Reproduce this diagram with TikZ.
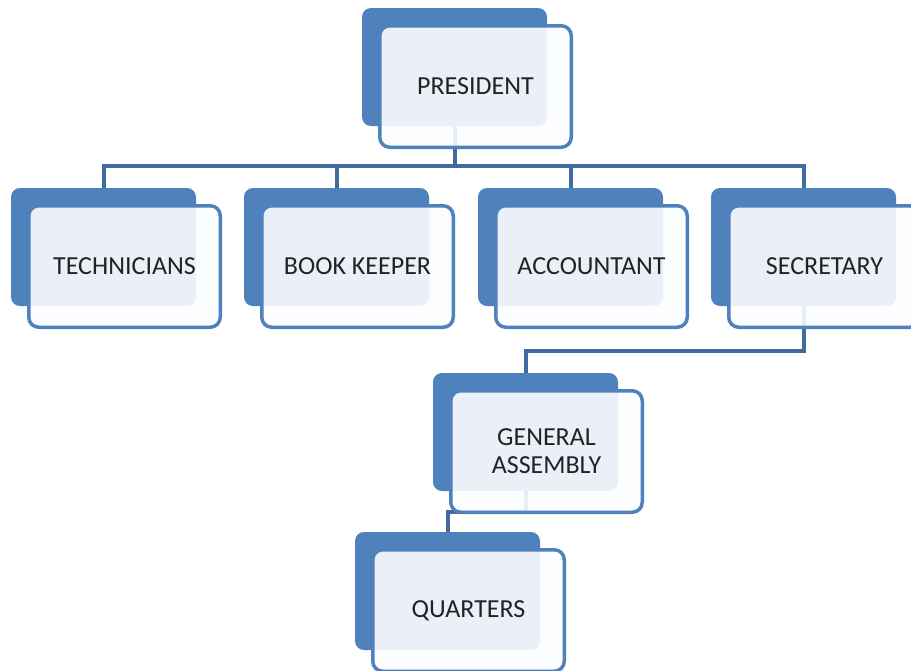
\documentclass[tikz,border=0pt]{standalone}
\usepackage{fontspec}
\setmainfont{Carlito}
\definecolor{bluebk}{RGB}{79,129,189}
\definecolor{connc}{RGB}{65,106,158}
\definecolor{txt}{RGB}{34,34,34}
\definecolor{frontfill}{RGB}{252,253,255}
\tikzset{
 backbox/.style={fill=bluebk, rounded corners=9pt, minimum width=185pt, minimum height=118pt, inner sep=0pt, outer sep=0pt},
 frontbox/.style={draw=bluebk, line width=3.5pt, fill=frontfill, fill opacity=0.9, draw opacity=1, text opacity=1, text=txt, rounded corners=10pt, minimum width=191.5pt, minimum height=121.5pt, inner sep=0pt, align=center, font=\fontsize{26}{28}\selectfont},
 conn/.style={draw=connc, line width=4pt}
}
\begin{document}
\begin{tikzpicture}[x=1pt,y=-1pt]
\useasboundingbox (0,0) rectangle (911,670);
\clip (0,0) rectangle (911,670);
% back boxes
\node[backbox] (pb) at (454.5,67) {};
\node[backbox] (tb) at (103.5,247) {};
\node[backbox] (bb) at (336.5,247) {};
\node[backbox] (ab) at (570.5,247) {};
\node[backbox] (sb) at (803.5,247) {};
\node[backbox] (gb) at (525.5,432) {};
\node[backbox] (qb) at (447.5,591) {};
% connectors
\coordinate (bus) at (454.5,166);
\coordinate (sgbend) at (700,351);
\coordinate (gqbend) at (480,512);
\draw[conn] (pb.south) -- (bus);
\draw[conn] (tb.north) |- (bus);
\draw[conn] (bb.north) |- (bus);
\draw[conn] (ab.north) |- (bus);
\draw[conn] (sb.north) |- (bus);
\draw[conn] (sb.south) |- (sgbend) -| (gb.north);
\draw[conn] (gb.south) |- (gqbend) -| (qb.north);
% front boxes
\node[frontbox] (pf) at (475.5,86.5) {PRESIDENT};
\node[frontbox] (tf) at (124.5,266.5) {TECHNICIANS};
\node[frontbox] (bf) at (357.5,266.5) {BOOK KEEPER};
\node[frontbox] (af) at (591.5,266.5) {ACCOUNTANT};
\node[frontbox] (sf) at (824.5,266.5) {SECRETARY};
\node[frontbox] (gf) at (546.5,451.5) {GENERAL\\ASSEMBLY};
\node[frontbox] (qf) at (468.5,610.5) {QUARTERS};
\end{tikzpicture}
\end{document}
